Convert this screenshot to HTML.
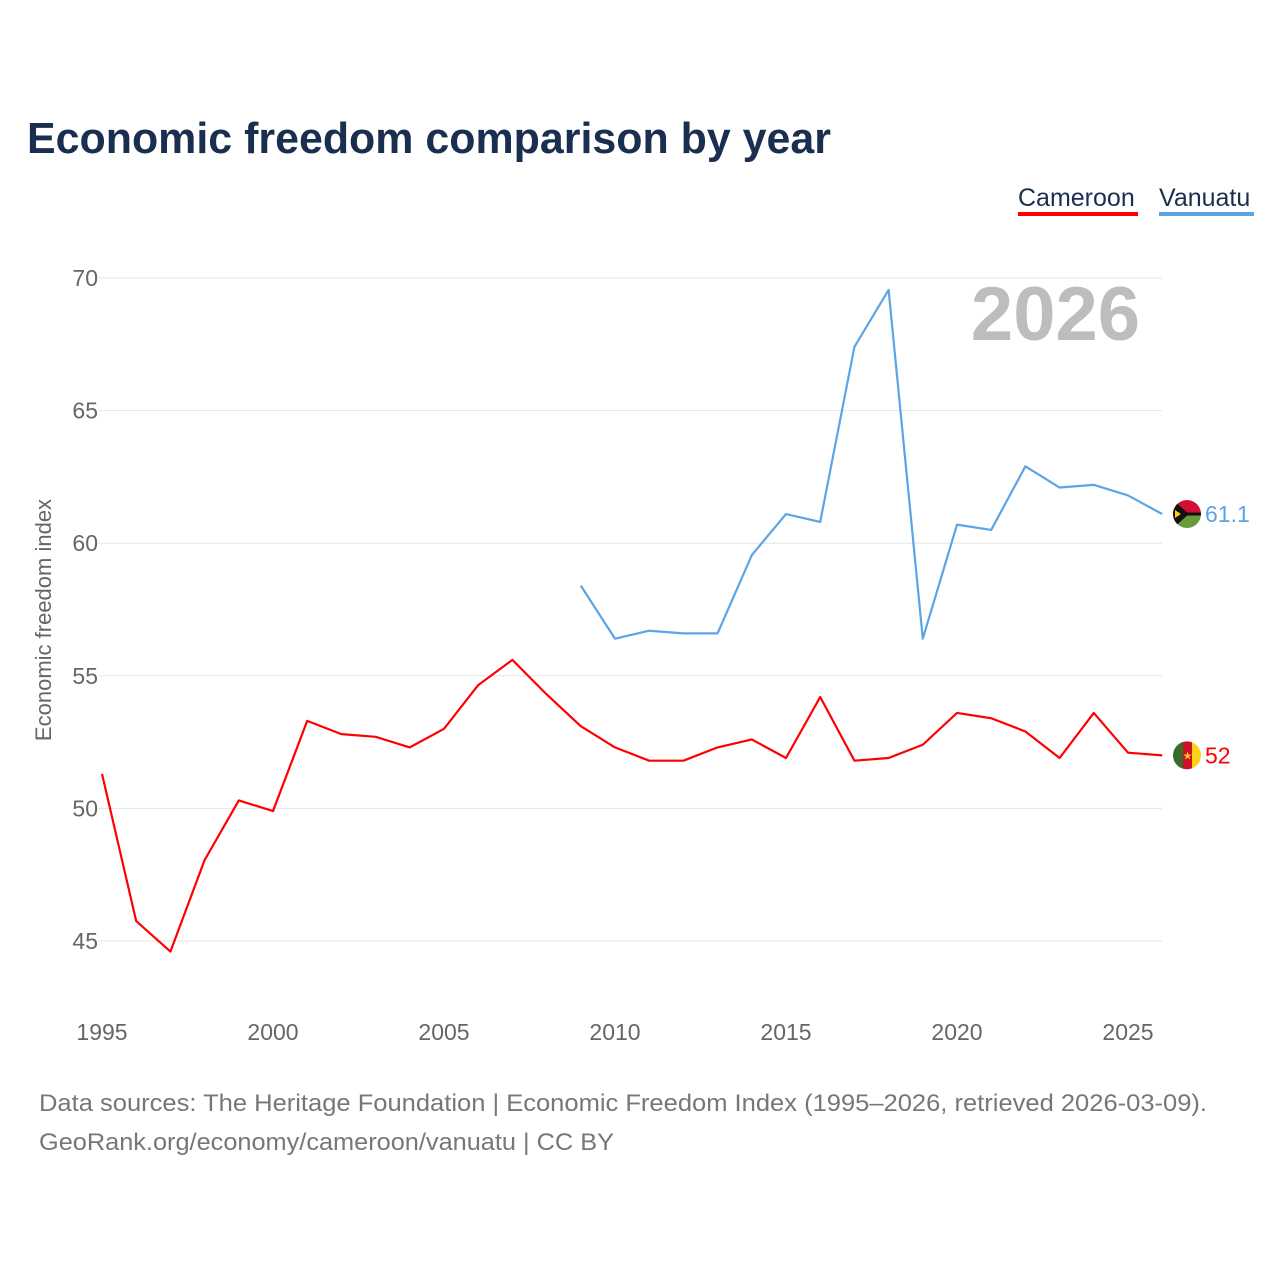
<!DOCTYPE html>
<html><head><meta charset="utf-8"><style>
body{margin:0;background:#fff;font-family:"Liberation Sans",sans-serif;}
</style></head><body>
<svg width="1280" height="1280" xmlns="http://www.w3.org/2000/svg" style="font-family:'Liberation Sans',sans-serif">
<defs>
<clipPath id="cv"><circle cx="1187" cy="513" r="14"/></clipPath>
<clipPath id="cc"><circle cx="1187" cy="755" r="14"/></clipPath>
</defs>
<text x="27" y="153" font-size="44" font-weight="bold" fill="#1a2e50" textLength="804" lengthAdjust="spacingAndGlyphs">Economic freedom comparison by year</text>
<g><text x="1018" y="206" font-size="25" fill="#1a2e50">Cameroon</text><rect x="1018" y="212" width="120" height="4" fill="#ff0000"/></g>
<g><text x="1159" y="206" font-size="25" fill="#1a2e50">Vanuatu</text><rect x="1159" y="212" width="95" height="4" fill="#5ba4e6"/></g>
<text x="1140" y="340" font-size="76" font-weight="bold" fill="#bdbdbd" text-anchor="end">2026</text>
<text transform="translate(51,620) rotate(-90)" font-size="22" fill="#666" text-anchor="middle">Economic freedom index</text>
<g id="grid"></g><g id="series"></g>
<text x="39" y="1111" font-size="24" fill="#777" textLength="1168" lengthAdjust="spacingAndGlyphs">Data sources: The Heritage Foundation | Economic Freedom Index (1995–2026, retrieved 2026-03-09).</text>
<text x="39" y="1150" font-size="24" fill="#777" textLength="575" lengthAdjust="spacingAndGlyphs">GeoRank.org/economy/cameroon/vanuatu | CC BY</text>
</svg>
<script>
const cameroonYears=[1995,1996,1997,1998,1999,2000,2001,2002,2003,2004,2005,2006,2007,2008,2009,2010,2011,2012,2013,2014,2015,2016,2017,2018,2019,2020,2021,2022,2023,2024,2025,2026];
const cameroonValues=[51.3,45.75,44.6,48.05,50.3,49.9,53.3,52.8,52.7,52.3,53.0,54.65,55.6,54.3,53.1,52.3,51.8,51.8,52.3,52.6,51.9,54.2,51.8,51.9,52.4,53.6,53.4,52.9,51.9,53.6,52.1,52.0];
const vanuatuYears=[2009,2010,2011,2012,2013,2014,2015,2016,2017,2018,2019,2020,2021,2022,2023,2024,2025,2026];
const vanuatuValues=[58.4,56.4,56.7,56.6,56.6,59.55,61.1,60.8,67.4,69.55,56.4,60.7,60.5,62.9,62.1,62.2,61.8,61.1];
const yTicks=[45,50,55,60,65,70];
const xTicks=[1995,2000,2005,2010,2015,2020,2025];
const NS="http://www.w3.org/2000/svg";
const xs=y=>102+(y-1995)*34.2;
const ys=v=>278+(70-v)*26.52;
const grid=document.getElementById('grid'),ser=document.getElementById('series');
function mk(tag,attrs,parent){const e=document.createElementNS(NS,tag);for(const k in attrs)e.setAttribute(k,attrs[k]);parent.appendChild(e);return e;}
yTicks.forEach(t=>{
 const l=mk('line',{x1:98,x2:1162,y1:ys(t),y2:ys(t),stroke:'#e6e6e6','stroke-width':1},grid);
 
 
 const tx=mk('text',{x:98,y:ys(t)+8,'font-size':23,fill:'#666','text-anchor':'end'},grid);tx.textContent=t;
 
 
});
xTicks.forEach(t=>{
 const tx=mk('text',{x:xs(t),y:1040,'font-size':23,fill:'#666','text-anchor':'middle'},grid);tx.textContent=t;
 
 
});
function line(years,vals,color,name,clip){
 const p=mk('polyline',{points:years.map((y,i)=>xs(y)+','+ys(vals[i])).join(' '),fill:'none',stroke:color,'stroke-width':2.2,'stroke-linejoin':'round'},ser);
 
 
 const last=vals[vals.length-1],cy=ys(last);
 const cyR=Math.round(cy);
 document.getElementById(clip).firstElementChild.setAttribute('cy',cy);
 const g=mk('g',{'clip-path':'url(#'+clip+')'},ser);
 
 
 if(name==='vanuatu'){
  mk('rect',{x:1173,y:cy-14,width:28,height:14,fill:'#d21034'},g);
  mk('rect',{x:1173,y:cy,width:28,height:14,fill:'#6a9a3a'},g);
  mk('rect',{x:1173,y:cy-1.5,width:28,height:3,fill:'#111'},g);
  mk('polygon',{points:`1173,${cy-14} 1189,${cy} 1173,${cy+14}`,fill:'#111'},g);
  mk('polygon',{points:`1175,${cy-4} 1181,${cy} 1175,${cy+4}`,fill:'#fdce12'},g);
 }else{
  mk('rect',{x:1173,y:cy-14,width:10,height:28,fill:'#3a6b2a'},g);
  mk('rect',{x:1183,y:cy-14,width:9,height:28,fill:'#ce1126'},g);
  mk('rect',{x:1192,y:cy-14,width:9,height:28,fill:'#fcd116'},g);
  const s=mk('text',{x:1187.5,y:cy+4,'font-size':11,fill:'#fcd116','text-anchor':'middle'},g);s.textContent='★';
 }
 const t=mk('text',{x:1205,y:cy+8,'font-size':23,fill:color},ser);t.textContent=last;
 
 
}
line(vanuatuYears,vanuatuValues,'#5ba4e6','vanuatu','cv');
line(cameroonYears,cameroonValues,'#ff0000','cameroon','cc');
</script>
</body></html>
